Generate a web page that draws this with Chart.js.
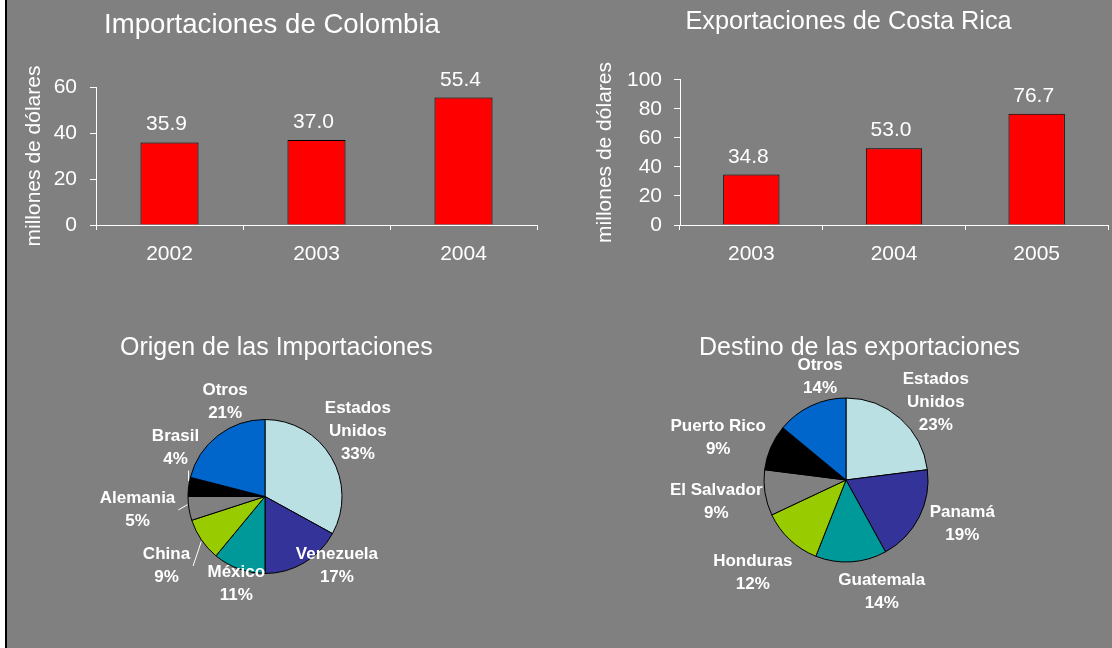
<!DOCTYPE html>
<html>
<head>
<meta charset="utf-8">
<title>Importaciones de Colombia / Exportaciones de Costa Rica</title>
<script src="https://cdn.jsdelivr.net/npm/chart.js"></script>
<style>
  html, body { margin: 0; padding: 0; background: #fff; }
  #page { position: relative; width: 1112px; height: 648px; overflow: hidden; }
  #frame { position: absolute; left: 5px; top: 0; width: 1105px; height: 648px; background: #808080; border-left: 2px solid #000; }
  canvas { position: absolute; }
</style>
</head>
<body>
<div id="page">
  <div id="frame"></div>
  <canvas id="colombia" width="546" height="300" style="left:7px;top:0px"></canvas>
  <canvas id="costarica" width="523" height="300" style="left:589px;top:0px"></canvas>
  <canvas id="origen" width="540" height="348" style="left:7px;top:300px"></canvas>
  <canvas id="destino" width="556" height="348" style="left:556px;top:300px"></canvas>
</div>
<script>
const colombiaYears = ['2002', '2003', '2004'];
const colombiaImports = [35.9, 37.0, 55.4];
const colombiaTicks = [0, 20, 40, 60];

const costaRicaYears = ['2003', '2004', '2005'];
const costaRicaExports = [34.8, 53.0, 76.7];
const costaRicaTicks = [0, 20, 40, 60, 80, 100];

const importOrigins = [['Estados', 'Unidos'], 'Venezuela', 'México', 'China', 'Alemania', 'Brasil', 'Otros'];
const importShares = [33, 17, 11, 9, 5, 4, 21];

const exportDestinations = [['Estados', 'Unidos'], 'Panamá', 'Guatemala', 'Honduras', 'El Salvador', 'Puerto Rico', 'Otros'];
const exportShares = [23, 19, 14, 12, 9, 9, 14];

const sliceColors = ['#bbe0e3', '#333399', '#009999', '#99cc00', '#808080', '#000000', '#0066cc'];

const FONT = '"Liberation Sans", Arial, sans-serif';
Chart.defaults.font.family = FONT;
Chart.defaults.color = '#fff';

// value above each bar
const barValueLabels = {
  id: 'barValueLabels',
  afterDatasetsDraw(chart) {
    const ctx = chart.ctx;
    const meta = chart.getDatasetMeta(0);
    const data = chart.data.datasets[0].data;
    ctx.save();
    ctx.fillStyle = '#fff';
    ctx.font = '21px ' + FONT;
    ctx.textAlign = 'center';
    ctx.textBaseline = 'alphabetic';
    meta.data.forEach((bar, i) => {
      ctx.fillText(data[i].toFixed(1), bar.x - 3, bar.y - 12);
    });
    ctx.restore();
  }
};

// pie title, left aligned with the chart area (the built-in title gets squeezed)
const pieTitle = {
  id: 'pieTitle',
  afterDraw(chart, args, opts) {
    const ctx = chart.ctx;
    ctx.save();
    ctx.font = opts.size + 'px ' + FONT;
    ctx.fillStyle = '#fff';
    ctx.textAlign = 'left';
    ctx.textBaseline = 'middle';
    ctx.fillText(opts.text, chart.chartArea.left, chart.chartArea.top - opts.offset);
    ctx.restore();
  }
};

// category + percent outside each slice
const pieLabels = {
  id: 'pieLabels',
  afterDatasetsDraw(chart, args, opts) {
    const ctx = chart.ctx;
    const meta = chart.getDatasetMeta(0);
    const labels = chart.data.labels;
    const data = chart.data.datasets[0].data;
    const total = data.reduce((a, b) => a + b, 0);
    ctx.save();
    ctx.font = 'bold 17px ' + FONT;
    ctx.fillStyle = '#fff';
    ctx.strokeStyle = '#fff';
    ctx.lineWidth = 1;
    ctx.textAlign = 'center';
    ctx.textBaseline = 'middle';
    meta.data.forEach((arc, i) => {
      const p = arc.getProps(['x', 'y', 'startAngle', 'endAngle', 'outerRadius'], true);
      const lines = [].concat(labels[i], Math.round(data[i] / total * 100) + '%');
      const w = Math.max(...lines.map((l) => ctx.measureText(l).width));
      const h = lines.length * opts.lineHeight;
      const mid = (p.startAngle + p.endAngle) / 2;
      const dx = Math.cos(mid);
      const dy = Math.sin(mid);
      const dist = p.outerRadius + opts.gap + Math.abs(dx) * w / 2 + Math.abs(dy) * h / 2;
      const nudge = opts.nudge[i] || [0, 0];
      const cx = p.x + dx * dist + nudge[0];
      const cy = p.y + dy * dist + nudge[1];

      if (opts.leaders[i]) {
        let a = Math.atan2(cy - p.y, cx - p.x);
        if (a < -Math.PI / 2) a += Math.PI * 2;
        a = Math.min(Math.max(a, p.startAngle + 0.05), p.endAngle - 0.05);
        const ex = p.x + Math.cos(a) * (p.outerRadius + 1);
        const ey = p.y + Math.sin(a) * (p.outerRadius + 1);
        const left = cx - w / 2 - 3;
        const right = cx + w / 2 + 3;
        let sx, sy;
        if (ex > right || ex < left) {
          sx = ex > right ? right : left;
          sy = cy;
        } else {
          sx = ex;
          sy = ey > cy ? cy + h / 2 : cy - h / 2;
        }
        ctx.beginPath();
        ctx.moveTo(sx, sy);
        ctx.lineTo(ex, ey);
        ctx.stroke();
      }

      lines.forEach((l, k) => {
        ctx.fillText(l, cx, cy + (k - (lines.length - 1) / 2) * opts.lineHeight);
      });
    });
    ctx.restore();
  }
};

function barChart(id, years, values, ticks, cfg) {
  return new Chart(document.getElementById(id), {
    type: 'bar',
    data: {
      labels: years,
      datasets: [{
        data: values,
        backgroundColor: '#ff0000',
        borderColor: '#000000',
        borderWidth: 1,
        barPercentage: 0.395,
        categoryPercentage: 1,
      }],
    },
    options: {
      responsive: false,
      animation: false,
      events: [],
      layout: { padding: { left: 0, right: cfg.padRight, top: 0, bottom: 0 } },
      plugins: {
        legend: { display: false },
        tooltip: { enabled: false },
        title: {
          display: true,
          text: cfg.title,
          color: '#fff',
          font: { size: cfg.titleSize, weight: 'normal' },
          padding: { top: cfg.titleTop, bottom: cfg.titleBottom },
        },
      },
      scales: {
        x: {
          grid: { drawOnChartArea: false, color: '#fff', tickLength: 5, offset: true },
          border: { color: '#fff' },
          ticks: { color: '#fff', font: { size: 21 }, padding: 12 },
          afterFit: (s) => { s.height = 75; },
        },
        y: {
          min: ticks[0],
          max: ticks[ticks.length - 1],
          ticks: { stepSize: ticks[1] - ticks[0], color: '#fff', font: { size: 21 }, padding: cfg.tickPad },
          grid: { drawOnChartArea: false, color: '#fff', tickLength: 6 },
          border: { color: '#fff' },
          title: {
            display: true,
            text: 'millones de dólares',
            color: '#fff',
            font: { size: 21 },
            padding: { top: cfg.axisTitlePad, bottom: 0 },
          },
          afterFit: (s) => { s.width = cfg.axisWidth; },
        },
      },
    },
    plugins: [barValueLabels],
  });
}

function pieChart(id, labels, values, cfg) {
  return new Chart(document.getElementById(id), {
    type: 'pie',
    data: {
      labels: labels,
      datasets: [{
        data: values,
        backgroundColor: sliceColors,
        borderColor: '#000000',
        borderWidth: 1,
        radius: cfg.radius,
      }],
    },
    options: {
      responsive: false,
      animation: false,
      events: [],
      layout: { padding: cfg.padding },
      plugins: {
        legend: { display: false },
        tooltip: { enabled: false },
        pieTitle: { text: cfg.title, size: 25, offset: 23 },
        pieLabels: {
          gap: 0,
          lineHeight: 23,
          nudge: cfg.nudge,
          leaders: cfg.leaders,
        },
      },
    },
    plugins: [pieTitle, pieLabels],
  });
}

barChart('colombia', colombiaYears, colombiaImports, colombiaTicks, {
  title: 'Importaciones de Colombia',
  titleSize: 27.6, titleTop: 8.5, titleBottom: 45.4,
  padRight: 16, axisWidth: 89, axisTitlePad: 15, tickPad: 13,
});

barChart('costarica', costaRicaYears, costaRicaExports, costaRicaTicks, {
  title: 'Exportaciones de Costa Rica',
  titleSize: 25.3, titleTop: 6.8, titleBottom: 42.8,
  padRight: 4, axisWidth: 91, axisTitlePad: 4, tickPad: 12,
});

pieChart('origen', importOrigins, importShares, {
  title: 'Origen de las Importaciones',
  radius: 77,
  padding: { left: 113, right: 137, top: 71, bottom: 26 },
  nudge: [[-13, -3], [12, -32], [8, -15], [-8, 8], [-11, -5], [13, -36], [27, -9]],
  leaders: [false, false, false, true, true, true, false],
});

pieChart('destino', exportDestinations, exportShares, {
  title: 'Destino de las exportaciones',
  radius: 82,
  padding: { left: 143, right: 119, top: 71, bottom: 59 },
  nudge: [[4, 20], [8, -11], [29, 4], [-7, 1], [0, 1], [-4, 11], [22, -1]],
  leaders: [false, false, false, false, false, false, false],
});
</script>
</body>
</html>
